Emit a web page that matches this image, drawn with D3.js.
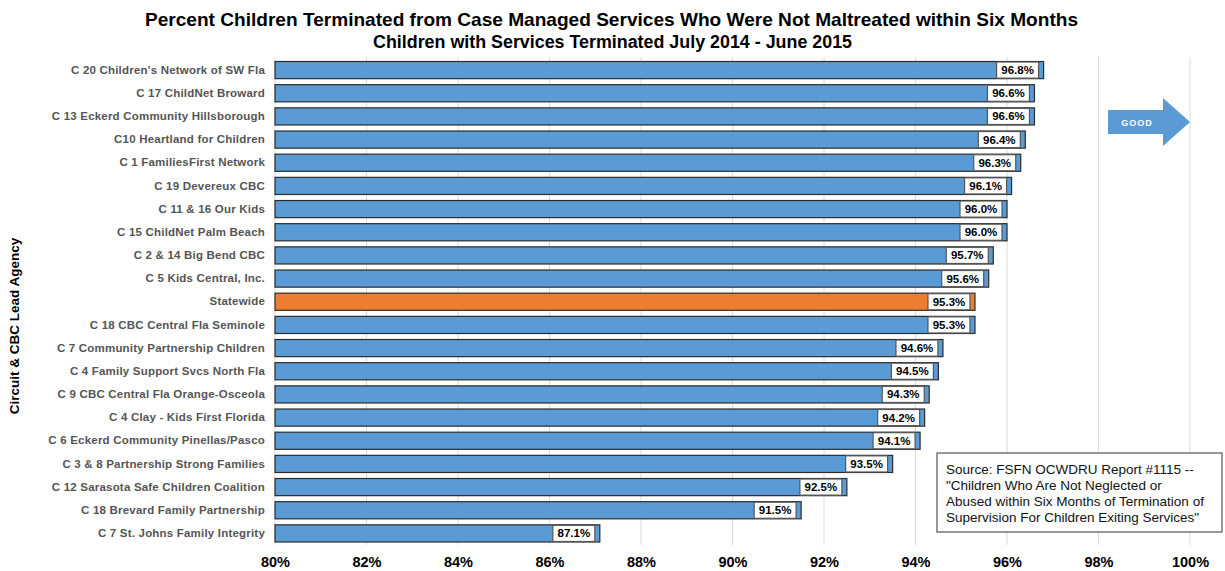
<!DOCTYPE html>
<html>
<head>
<meta charset="utf-8">
<script src="https://d3js.org/d3.v7.min.js"></script>
<style>
  body { margin: 0; background: #fff; }
  svg { font-family: "Liberation Sans", Arial, sans-serif; }
</style>
</head>
<body>
<svg width="1225" height="571"></svg>
<script>
var agencies = ["C 20 Children's Network of SW Fla", "C 17 ChildNet Broward", "C 13 Eckerd Community Hillsborough",
  "C10 Heartland for Children", "C 1 FamiliesFirst Network", "C 19 Devereux CBC", "C 11 & 16 Our Kids",
  "C 15 ChildNet Palm Beach", "C 2 & 14 Big Bend CBC", "C 5 Kids Central, Inc.", "Statewide",
  "C 18 CBC Central Fla Seminole", "C 7 Community Partnership Children", "C 4 Family Support Svcs North Fla",
  "C 9 CBC Central Fla Orange-Osceola", "C 4 Clay - Kids First Florida", "C 6 Eckerd Community Pinellas/Pasco",
  "C 3 & 8 Partnership Strong Families", "C 12 Sarasota Safe Children Coalition", "C 18 Brevard Family Partnership",
  "C 7 St. Johns Family Integrity"]
var pct = [96.8, 96.6, 96.6, 96.4, 96.3, 96.1, 96.0, 96.0, 95.7, 95.6, 95.3,
  95.3, 94.6, 94.5, 94.3, 94.2, 94.1, 93.5, 92.5, 91.5, 87.1]
var ticks = [80, 82, 84, 86, 88, 90, 92, 94, 96, 98, 100]
var sourceLines = ["Source: FSFN OCWDRU Report #1115 --",
  "\"Children Who Are Not Neglected or",
  "Abused within Six Months of Termination of",
  "Supervision For Children Exiting Services\""]

var svg = d3.select("svg")
var x = d3.scaleLinear().domain([80, 100]).range([275, 1190])
var y = d3.scaleBand().domain(agencies).range([58.5, 545]).paddingInner(0.26).paddingOuter(0.13)

// title
svg.append("text").attr("x", 145).attr("y", 26)
  .attr("textLength", 933).attr("lengthAdjust", "spacingAndGlyphs")
  .style("font-size", "18.5px").style("font-weight", "bold")
  .text("Percent Children  Terminated from Case Managed Services Who Were Not Maltreated within  Six Months")
svg.append("text").attr("x", 373).attr("y", 48)
  .attr("textLength", 479).attr("lengthAdjust", "spacingAndGlyphs")
  .style("font-size", "17.5px").style("font-weight", "bold")
  .text("Children with Services Terminated July 2014 - June 2015")

// gridlines
svg.append("g").selectAll("line").data(ticks).enter().append("line")
  .attr("x1", d => x(d)).attr("x2", d => x(d))
  .attr("y1", 57).attr("y2", 545)
  .style("stroke", "#dcdcdc").style("stroke-width", 1)

// x axis labels
var xa = svg.append("g").attr("transform", "translate(0,545)")
  .call(d3.axisBottom(x).tickValues(ticks).tickSize(0).tickPadding(12).tickFormat(d => d + "%"))
xa.select(".domain").remove()
xa.selectAll("text").style("font-size", "14.5px").style("font-weight", "bold").style("fill", "#000")
  .style("font-family", "Liberation Sans, Arial, sans-serif")

// y axis labels
var ya = svg.append("g").attr("transform", "translate(275,0)")
  .call(d3.axisLeft(y).tickSize(0).tickPadding(10))
ya.select(".domain").remove()
ya.selectAll("text").style("font-size", "11.5px").style("font-weight", "bold").style("fill", "#555")
  .style("font-family", "Liberation Sans, Arial, sans-serif").style("letter-spacing", "0.2px")

svg.append("text").attr("transform", "translate(19,326) rotate(-90)").attr("text-anchor", "middle")
  .style("font-size", "13.5px").style("font-weight", "bold").text("Circuit & CBC Lead Agency")

// bars
var rows = svg.append("g").selectAll("g").data(agencies).enter().append("g")
rows.append("rect")
  .attr("x", x(80)).attr("y", d => y(d))
  .attr("width", (d, i) => x(pct[i]) - x(80)).attr("height", y.bandwidth())
  .style("fill", d => d == "Statewide" ? "#ed7d31" : "#5b9bd5")
  .style("stroke", "#2b2b2b").style("stroke-width", 1.2)

// value boxes
rows.append("rect")
  .attr("x", (d, i) => x(pct[i]) - 47).attr("y", d => y(d) + 0.5)
  .attr("width", 42).attr("height", y.bandwidth() - 1)
  .style("fill", "#fff").style("stroke", "#555").style("stroke-width", 1.2)
rows.append("text")
  .attr("x", (d, i) => x(pct[i]) - 26).attr("y", d => y(d) + y.bandwidth() / 2 + 4)
  .attr("text-anchor", "middle").style("font-size", "11.5px").style("font-weight", "bold")
  .text((d, i) => pct[i].toFixed(1) + "%")

// GOOD arrow
svg.append("path")
  .attr("d", "M1108,110 L1163,110 L1163,98 L1190,122 L1163,146 L1163,134 L1108,134 Z")
  .style("fill", "#5b9bd5")
svg.append("text").attr("x", 1137).attr("y", 126).attr("text-anchor", "middle")
  .style("font-size", "9px").style("font-weight", "bold").style("fill", "#fff")
  .style("letter-spacing", "1px").text("GOOD")

// source box
svg.append("rect").attr("x", 937).attr("y", 453).attr("width", 285).attr("height", 79)
  .style("fill", "#fff").style("stroke", "#555").style("stroke-width", 1.2)
svg.append("g").selectAll("text").data(sourceLines).enter().append("text")
  .attr("x", 946).attr("y", (d, i) => 474 + i * 16)
  .style("font-size", "13.5px").style("fill", "#111")
  .style("font-family", "Liberation Sans Narrow, Liberation Sans, Arial, sans-serif")
  .text(d => d)
</script>
</body>
</html>
